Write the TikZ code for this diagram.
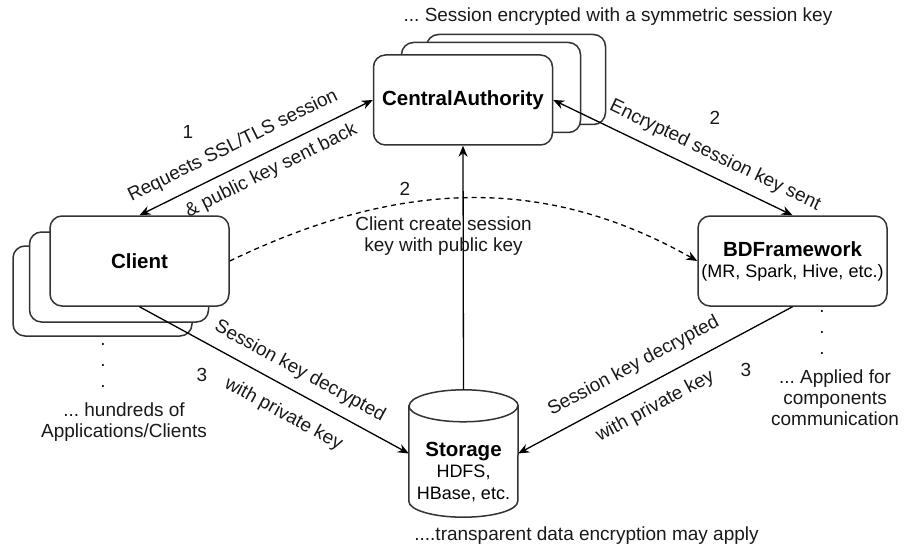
\documentclass[tikz,border=0pt]{standalone}
\usepackage{fontspec}
\setmainfont{Liberation Sans}
\usetikzlibrary{arrows.meta}
\frenchspacing
\newcommand{\subfont}{\fontsize{18}{21.5}\selectfont\mdseries}
\tikzset{
  box/.style={draw=black!80, line width=1.5pt, rounded corners=12pt, fill=white,
    minimum width=179pt, minimum height=90pt, align=center,
    font=\fontsize{20.5}{22}\selectfont\bfseries},
  note/.style={font=\fontsize{19}{21}\selectfont, text=black!90, inner sep=0pt, align=center},
  link/.style={line width=1.3pt, -{Stealth[length=11pt,width=9pt]}},
  twoway/.style={line width=1.3pt, {Stealth[length=11pt,width=9pt]}-{Stealth[length=11pt,width=9pt]}},
}
\begin{document}
\begin{tikzpicture}[x=1pt,y=-1pt]
  \useasboundingbox (0,0) rectangle (904,548);
  % central authority, stacked copies behind
  \node[box] (ca3) at (516,79.5) {};
  \node[box] (ca2) at (491,87.5) {};
  \node[box] (ca) at (463,100) {CentralAuthority};
  % clients, stacked copies behind
  \node[box] (cl3) at (102.5,291) {};
  \node[box] (cl2) at (119,277) {};
  \node[box] (client) at (139.5,261) {Client};
  % framework
  \node[box, minimum width=189pt] (bd) at (792.5,261)
    {BDFramework\\[-1pt]{\subfont (MR, Spark, Hive, etc.)}};
  % storage cylinder
  \node[minimum width=109pt, minimum height=127pt, inner sep=0pt] (storage) at (463.5,453.5) {};
  \draw[draw=black!80, line width=1.5pt, fill=white]
    ([yshift=-16pt]storage.north west) -- ([yshift=16pt]storage.south west)
    arc[start angle=180, end angle=360, x radius=54.5pt, y radius=16pt]
    -- ([yshift=-16pt]storage.north east)
    arc[start angle=0, end angle=180, x radius=54.5pt, y radius=16pt] -- cycle;
  \draw[draw=black!80, line width=1.5pt]
    ([yshift=-16pt]storage.north west)
    arc[start angle=180, end angle=360, x radius=54.5pt, y radius=16pt];
  \node[align=center, font=\subfont] (storagetxt) at (463.5,471.5)
    {{\fontsize{20.5}{21.5}\selectfont\bfseries Storage}\\HDFS,\\HBase, etc.};

  % connectors
  \draw[twoway] (client.north) -- (ca.west)
    node[note, pos=.44, sloped, above=11pt] (req) {Requests SSL/TLS session}
    node[note, pos=.53, sloped, below=9pt] (back) {\& public key sent back};
  \draw[twoway] (ca.east) -- (bd.north)
    node[note, pos=.64, sloped, above=10.5pt] (sent) {Encrypted session key sent};
  \draw[link] (storage.north) -- (ca.south);
  \draw[link] (client.south) -- (storage.west)
    node[note, pos=.56, sloped, above=10.5pt] (decl) {Session key decrypted}
    node[note, pos=.58, sloped, below=16pt] (privl) {with private key};
  \draw[link] (bd.south) -- (storage.east);
  \path (storage.east) -- (bd.south)
    node[note, pos=.46, sloped, above=13.5pt] (decr) {Session key decrypted}
    node[note, pos=.46, sloped, below=14pt] (privr) {with private key};
  \draw[link, dash pattern=on 5pt off 4pt] (client.east)
    .. controls (400,179) and (545,175) .. (bd.west);

  % numbers and notes
  \node[note] (n1) at (188,132) {1};
  \node[note] (n2a) at (405,189) {2};
  \node[note] (n2b) at (715,118) {2};
  \node[note] (n3a) at (202,375) {3};
  \node[note] (n3b) at (746,370) {3};
  \node[note] (create) at (443.5,236.5) {Client create session\\key with public key};
  \node[note] (top) at (618,17) {... Session encrypted with a symmetric session key};
  \node[note] (cldots) at (103,365.5) {.\\.\\.};
  \node[note] (hundreds) at (124,422) {... hundreds of\\Applications/Clients};
  \node[note] (bddots) at (822,332) {.\\.\\.};
  \node[note] (applied) at (835,398) {... Applied for\\components\\communication};
  \node[note] (tde) at (586.5,536) {....transparent data encryption may apply};
\end{tikzpicture}
\end{document}
